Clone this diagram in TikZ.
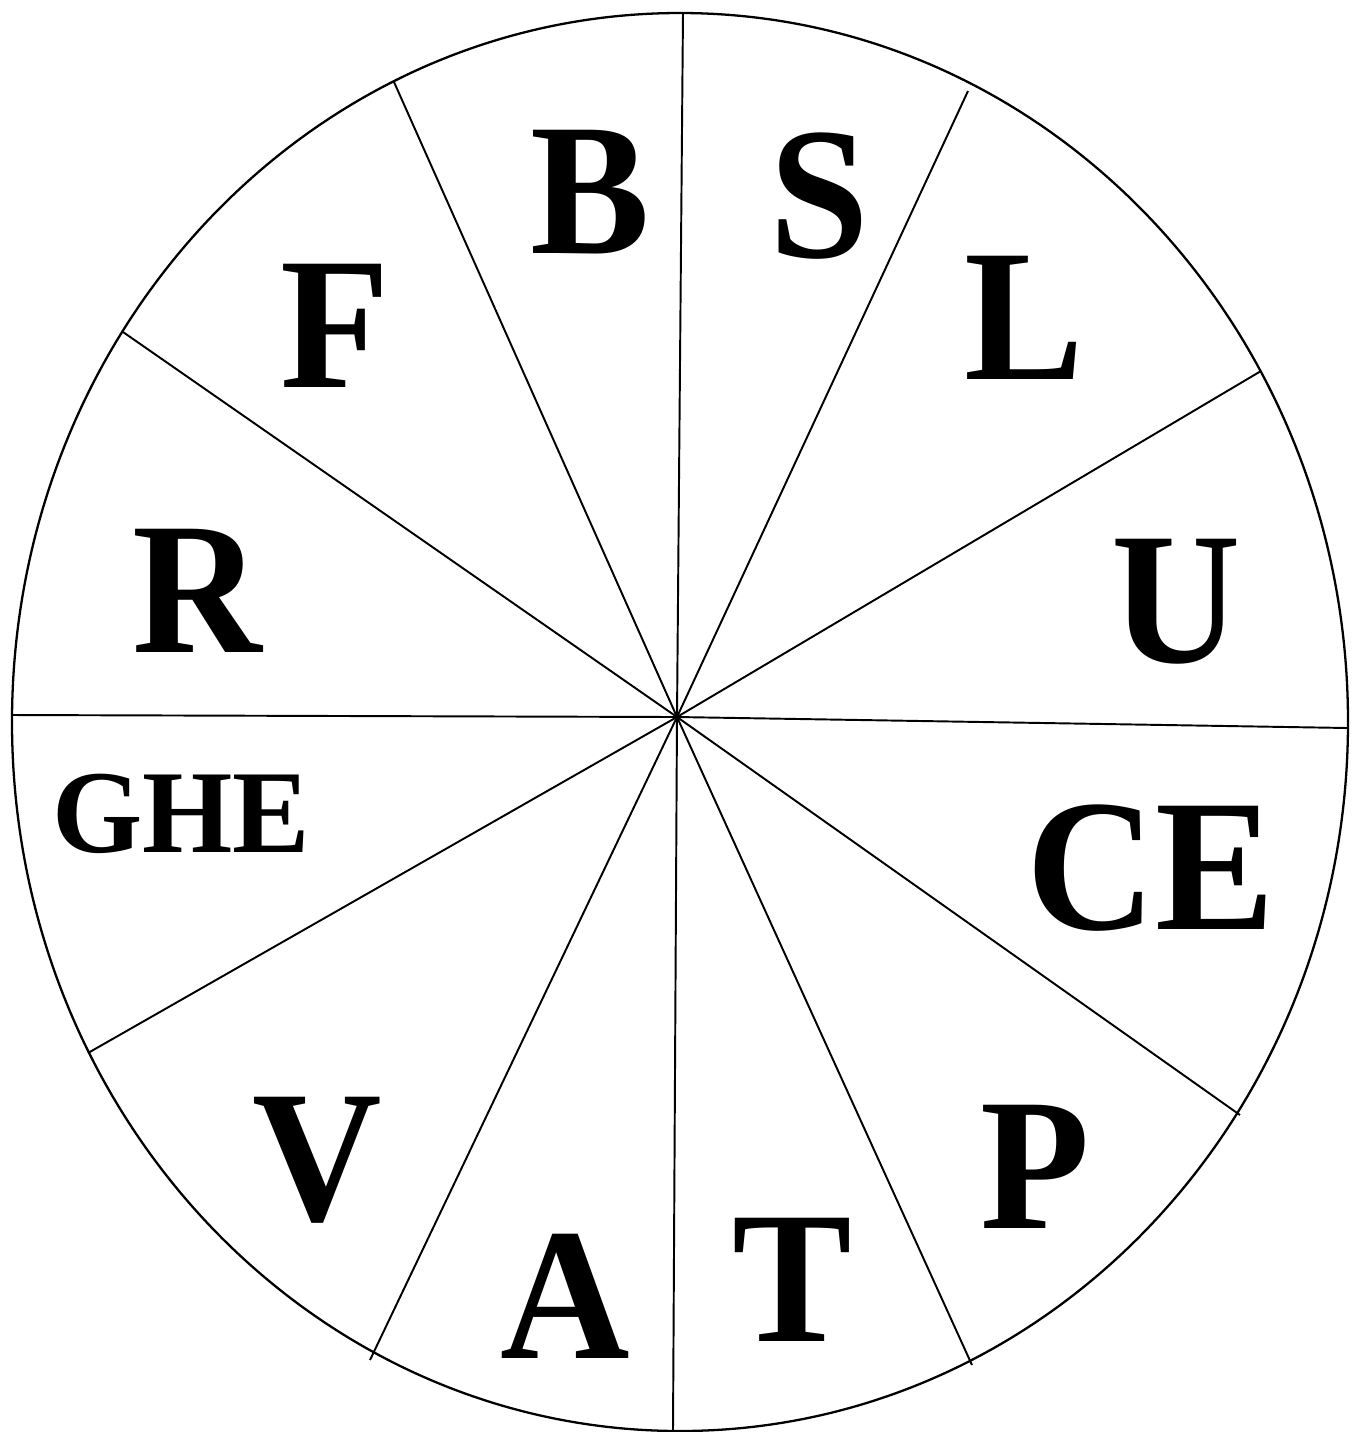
\documentclass[tikz,border=0pt]{standalone}
\usepackage{fontspec}
\setmainfont{Liberation Serif}
\usetikzlibrary{positioning}
\tikzset{
  spoke/.style={draw, line width=0.55pt},
  rim/.style={draw, line width=0.65pt},
  letter/.style={font=\bfseries\fontsize{51}{51}\selectfont, inner sep=0pt, yscale=1.05},
  smallword/.style={font=\bfseries\fontsize{33}{33}\selectfont, inner sep=0pt, yscale=1.02},
}

\begin{document}
\begin{tikzpicture}[x=0.01cm, y=-0.01cm]
\useasboundingbox (0,0) rectangle (1352,1432);
% wheel
\draw[rim] (680,722) ellipse [x radius=668, y radius=709];
\coordinate (hub) at (677,717);
\coordinate (r0) at (1348,728);
\coordinate (r1) at (1261,371);
\coordinate (r2) at (968,91);
\coordinate (r3) at (683,13);
\coordinate (r4) at (394,82);
\coordinate (r5) at (123,332);
\coordinate (r6) at (12,715);
\coordinate (r7) at (88,1053);
\coordinate (r8) at (370,1360);
\coordinate (r9) at (673,1431);
\coordinate (r10) at (972,1365);
\coordinate (r11) at (1240,1115);
\foreach \i in {0,...,11}
  \draw[spoke] (hub) -- (r\i);

% letters
\node[letter] (B) at (590,192) {B};
\node[letter] (S) at (819,196) {S};
\node[letter] (L) at (1024,318) {L};
\node[letter] (F) at (335,326) {F};
\node[letter] (R) at (197,591) {R};
\node[letter] (U) at (1176,602) {U};
\node[smallword] (GHE) at (181,814) {GHE};
\node[letter] (CE) at (1151,868) {CE};
\node[letter] (V) at (317,1160) {V};
\node[letter] (P) at (1035,1167) {P};
\node[letter] (A) at (565,1296) {A};
\node[letter] (T) at (792,1280) {T};
\end{tikzpicture}
\end{document}
